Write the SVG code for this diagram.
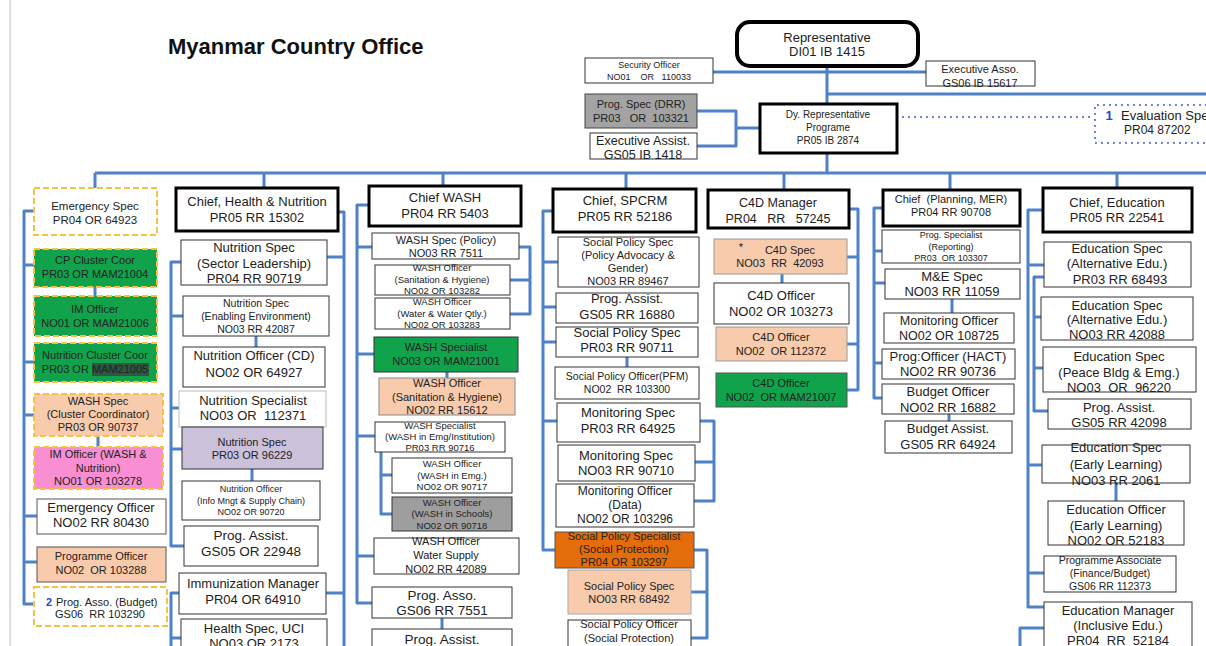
<svg xmlns="http://www.w3.org/2000/svg" width="1206" height="646" viewBox="0 0 1206 646">
<style>
text{font-family:"Liberation Sans",Arial,sans-serif;fill:#222;text-anchor:middle}
.b{fill:#fff;stroke:#333;stroke-width:1}
.bg{stroke:#555;stroke-width:1}
.k{fill:#fff;stroke:#000;stroke-width:3}
.d{stroke:#f5c342;stroke-width:2;stroke-dasharray:6 3}
.w{fill:#fff}
.g{fill:#11a24c}
.p{fill:#f8cbad}
.c{fill:none;stroke:#4f81c7;stroke-width:3;stroke-linejoin:round}
.dot{fill:none;stroke:#3d5ad6;stroke-width:2;stroke-dasharray:0 6;stroke-linecap:round}
.f9{font-size:9px}.f95{font-size:9.5px}.f10{font-size:10px}.f105{font-size:10.5px}.f11{font-size:11px}.f12{font-size:12px}.f13{font-size:13px}
.bl{fill:#2346d8;font-weight:bold}
</style>
<rect width="1206" height="646" fill="#fff"/>
<line x1="10" y1="0" x2="10" y2="646" stroke="#d4d4d4" stroke-width="1.5"/>
<text x="168" y="54" style="text-anchor:start;font-size:22px;font-weight:bold;fill:#111">Myanmar Country Office</text>

<g id="connectors">
<path class="c" d="M713,72 H926 M827,66 V104 M827,94 H1206 M827,153 V173 M697,111 H736 V146 H697 M736,128 H760 M95,173 H1206 M95,173 V188 M264,173 V188 M443,173 V186 M626,173 V189 M784,173 V190 M950,173 V190 M1117,173 V188"/>
<path class="c" d="M34,211 H24 V604 H34 M24,265 H34 M24,362 H34 M24,415 H34 M24,516 H37 M24,562 H37 M95,287 V296 M98,436 V447"/>
<path class="c" d="M338,212 H344 V646 M344,257 H327 M344,593 H326 M181,262 H171 V546 H184 M171,316 H183 M171,408 H179 M171,449 H182 M179,593 H171 V646 M171,638 H181 M256,336 V347 M252,469 V481"/>
<path class="c" d="M369,205 H357 V603 H372 M357,247 H372 M357,354 H374 M357,436 H375 M357,556 H374 M519,247 H530 V314 H510 M530,280 H510 M447,372 V378 M381,452 V514 H392 M381,475 H392 M442,618 V629"/>
<path class="c" d="M553,211 H543 V550 H555 M543,262 H558 M543,307 H556 M543,342 H556 M543,421 H557 M627,357 V367 M700,421 H714 V501 H694 M714,462 H695 M694,550 H707 V638 H691 M707,592 H691"/>
<path class="c" d="M848,209 H858 V390 H847 M858,257 H847 M858,344 H847 M782,274 V283"/>
<path class="c" d="M883,208 H874 V398 H882 M874,251 H882 M874,283 H885 M874,363 H882 M952,299 V313 M949,414 V421"/>
<path class="c" d="M1043,210 H1028 V607 H1044 M1028,265 H1044 M1028,465 H1042 M1028,573 H1044 M1044,277 H1034 V411 H1048 M1034,317 H1041 M1034,368 H1043 M1116,483 V501 M1044,628 H1020 V646"/>
<path class="dot" d="M897,117 H1095 M1206,105 H1095 V143 H1206"/>
</g>

<g id="representative"><rect x="737" y="22" width="181" height="44" rx="13" fill="#fff" stroke="#000" stroke-width="4"/><text class="f13"><tspan x="827" y="42">Representative</tspan><tspan x="827" y="56">DI01 IB 1415</tspan></text></g>
<g id="security-officer"><rect class="b" x="585" y="58" width="128" height="25"/><text class="f9"><tspan x="649" y="68">Security Officer</tspan><tspan x="649" y="80" xml:space="preserve">NO01    OR   110033</tspan></text></g>
<g id="executive-asso"><rect class="b" x="926" y="61" width="109" height="25"/><text class="f11"><tspan x="980" y="73">Executive Asso.</tspan><tspan x="980" y="87">GS06 IB 15617</tspan></text></g>
<g id="prog-spec-drr"><rect x="585" y="94" width="112" height="34" fill="#a3a3a3" stroke="#444" stroke-width="1"/><text class="f11"><tspan x="641" y="108">Prog. Spec (DRR)</tspan><tspan x="641" y="122" xml:space="preserve">PR03   OR  103321</tspan></text></g>
<g id="executive-assist"><rect class="b" x="590" y="133" width="107" height="26"/><text style="font-size:12.5px"><tspan x="643" y="145">Executive Assist.</tspan><tspan x="643" y="159">GS05 IB 1418</tspan></text></g>
<g id="dy-representative"><rect class="k" x="760" y="104" width="137" height="49"/><text class="f10"><tspan x="828" y="118">Dy. Representative</tspan><tspan x="828" y="131">Programe</tspan><tspan x="828" y="144">PR05 IB 2874</tspan></text></g>
<g id="evaluation-spec"><text class="bl" x="1109" y="120" style="font-size:13px">1</text><text style="text-anchor:start;font-size:13px" x="1121" y="120">Evaluation Spec</text><text style="text-anchor:start;font-size:12px" x="1124" y="134">PR04 87202</text></g>

<!-- Column 1: emergency -->
<g id="emergency-spec"><rect class="w d" x="34" y="188" width="123" height="47"/><text style="font-size:11.5px"><tspan x="95" y="210">Emergency Spec</tspan><tspan x="95" y="224">PR04 OR 64923</tspan></text></g>
<g id="cp-cluster-coor"><rect class="g d" x="34" y="249" width="123" height="38"/><text class="f11"><tspan x="95" y="264">CP Cluster Coor</tspan><tspan x="95" y="278">PR03 OR MAM21004</tspan></text></g>
<g id="im-officer"><rect class="g d" x="34" y="296" width="123" height="40"/><text class="f11"><tspan x="95" y="313">IM Officer</tspan><tspan x="95" y="327">NO01 OR MAM21006</tspan></text></g>
<g id="nutrition-cluster-coor"><rect class="g d" x="34" y="343" width="123" height="39"/><rect x="92" y="363" width="57" height="13" fill="#2f5640"/><text class="f11"><tspan x="95" y="359">Nutrition Cluster Coor</tspan><tspan x="95" y="373">PR03 OR MAM21005</tspan></text></g>
<g id="wash-spec-cluster"><rect class="p d" x="34" y="394" width="129" height="42"/><text class="f11"><tspan x="98" y="405">WASH Spec</tspan><tspan x="98" y="418">(Cluster Coordinator)</tspan><tspan x="98" y="431">PR03 OR 90737</tspan></text></g>
<g id="im-officer-wash"><rect class="d" fill="#f98fd2" x="34" y="447" width="129" height="42"/><text class="f11"><tspan x="98" y="458">IM Officer (WASH &amp;</tspan><tspan x="98" y="472">Nutrition)</tspan><tspan x="98" y="485">NO01 OR 103278</tspan></text></g>
<g id="emergency-officer"><rect class="w bg" x="37" y="499" width="129" height="35"/><text class="f13"><tspan x="101" y="512">Emergency Officer</tspan><tspan x="101" y="527">NO02 RR 80430</tspan></text></g>
<g id="programme-officer"><rect class="p bg" x="37" y="547" width="129" height="35"/><text class="f11"><tspan x="101" y="560">Programme Officer</tspan><tspan x="101" y="574" xml:space="preserve">NO02  OR 103288</tspan></text></g>
<g id="prog-asso-budget"><rect class="w d" x="34" y="587" width="133" height="39"/><text class="f11" style="text-anchor:start"><tspan class="bl" x="46" y="606">2</tspan><tspan x="56" y="606">Prog. Asso. (Budget)</tspan></text><text class="f11"><tspan x="100" y="618" xml:space="preserve">GS06  RR 103290</tspan></text></g>

<!-- Column 2: health & nutrition -->
<g id="chief-health"><rect class="k" x="176" y="188" width="162" height="43"/><text class="f13"><tspan x="257" y="206">Chief, Health &amp; Nutrition</tspan><tspan x="257" y="222">PR05 RR 15302</tspan></text></g>
<g id="nutrition-spec-sector"><rect class="b" x="181" y="240" width="146" height="45"/><text class="f13"><tspan x="254" y="252">Nutrition Spec</tspan><tspan x="254" y="268">(Sector Leadership)</tspan><tspan x="254" y="283">PR04 RR 90719</tspan></text></g>
<g id="nutrition-spec-enabling"><rect class="b" x="183" y="296" width="146" height="40"/><text class="f105"><tspan x="256" y="307">Nutrition Spec</tspan><tspan x="256" y="320">(Enabling Environment)</tspan><tspan x="256" y="333">NO03 RR 42087</tspan></text></g>
<g id="nutrition-officer-cd"><rect class="b" x="183" y="347" width="142" height="40"/><text class="f13"><tspan x="254" y="360">Nutrition Officer (CD)</tspan><tspan x="254" y="377">NO02 OR 64927</tspan></text></g>
<g id="nutrition-specialist"><rect x="179" y="391" width="147" height="36" fill="#fff" stroke="#bbb" stroke-width="1"/><text class="f13"><tspan x="253" y="405">Nutrition Specialist</tspan><tspan x="253" y="420" xml:space="preserve">NO03 OR  112371</tspan></text></g>
<g id="nutrition-spec-pr03"><rect x="182" y="427" width="141" height="42" fill="#ccc1db" stroke="#333" stroke-width="1"/><text class="f11"><tspan x="252" y="446">Nutrition Spec</tspan><tspan x="252" y="459">PR03 OR 96229</tspan></text></g>
<g id="nutrition-officer-info"><rect class="b" x="182" y="481" width="138" height="39"/><text class="f9"><tspan x="251" y="492">Nutrition Officer</tspan><tspan x="251" y="504">(Info Mngt &amp; Supply Chain)</tspan><tspan x="251" y="515">NO02 OR 90720</tspan></text></g>
<g id="prog-assist-health"><rect class="b" x="184" y="526" width="134" height="40"/><text style="font-size:13.5px"><tspan x="251" y="540">Prog. Assist.</tspan><tspan x="251" y="556">GS05 OR 22948</tspan></text></g>
<g id="immunization-manager"><rect class="b" x="179" y="573" width="147" height="41"/><text class="f13"><tspan x="253" y="588">Immunization Manager</tspan><tspan x="253" y="604">PR04 OR 64910</tspan></text></g>
<g id="health-spec-uci"><rect class="b" x="181" y="619" width="146" height="40"/><text class="f13"><tspan x="254" y="633">Health Spec, UCI</tspan><tspan x="254" y="648">NO03 OR 2173</tspan></text></g>

<!-- Column 3: WASH -->
<g id="chief-wash"><rect class="k" x="369" y="186" width="152" height="40"/><text class="f13"><tspan x="445" y="202">Chief WASH</tspan><tspan x="445" y="218">PR04 RR 5403</tspan></text></g>
<g id="wash-spec-policy"><rect class="b" x="372" y="233" width="147" height="26"/><text class="f11"><tspan x="446" y="244">WASH Spec (Policy)</tspan><tspan x="446" y="257">NO03 RR 7511</tspan></text></g>
<g id="wash-officer-san"><rect class="b" x="375" y="265" width="135" height="30"/><text class="f95"><tspan x="442" y="271">WASH Officer</tspan><tspan x="442" y="283">(Sanitation &amp; Hygiene)</tspan><tspan x="442" y="294">NO02 OR 103282</tspan></text></g>
<g id="wash-officer-water"><rect class="b" x="375" y="298" width="135" height="31"/><text class="f95"><tspan x="442" y="305">WASH Officer</tspan><tspan x="442" y="317">(Water &amp; Water Qtly.)</tspan><tspan x="442" y="328">NO02 OR 103283</tspan></text></g>
<g id="wash-specialist-green"><rect class="g" x="374" y="337" width="144" height="35" stroke="#333" stroke-width="1"/><text class="f11"><tspan x="446" y="351">WASH Specialist</tspan><tspan x="446" y="365">NO03 OR MAM21001</tspan></text></g>
<g id="wash-officer-peach"><rect class="p" x="379" y="378" width="136" height="37" stroke="#888" stroke-width="1"/><text class="f11"><tspan x="447" y="387">WASH Officer</tspan><tspan x="447" y="401">(Sanitation &amp; Hygiene)</tspan><tspan x="447" y="414">NO02 RR 15612</tspan></text></g>
<g id="wash-specialist-emg"><rect class="b" x="375" y="422" width="130" height="30"/><text class="f95"><tspan x="440" y="429">WASH Specialist</tspan><tspan x="440" y="440">(WASH in Emg/Institution)</tspan><tspan x="440" y="451">PR03 RR 90716</tspan></text></g>
<g id="wash-officer-emg"><rect class="b" x="392" y="458" width="120" height="35"/><text class="f95"><tspan x="452" y="467">WASH Officer</tspan><tspan x="452" y="479">(WASH in Emg.)</tspan><tspan x="452" y="490">NO02 OR 90717</tspan></text></g>
<g id="wash-officer-schools"><rect x="392" y="497" width="120" height="34" fill="#9e9e9e" stroke="#333" stroke-width="1"/><text class="f95"><tspan x="452" y="506">WASH Officer</tspan><tspan x="452" y="517">(WASH in Schools)</tspan><tspan x="452" y="529">NO02 OR 90718</tspan></text></g>
<g id="wash-officer-water-supply"><rect class="b" x="374" y="538" width="145" height="36"/><text class="f11"><tspan x="446" y="545">WASH Officer</tspan><tspan x="446" y="559">Water Supply</tspan><tspan x="446" y="573">NO02 RR 42089</tspan></text></g>
<g id="prog-asso-wash"><rect class="b" x="372" y="587" width="140" height="31"/><text style="font-size:13.5px"><tspan x="442" y="600">Prog. Asso.</tspan><tspan x="442" y="615">GS06 RR 7551</tspan></text></g>
<g id="prog-assist-wash"><rect class="b" x="372" y="629" width="140" height="30"/><text style="font-size:13.5px"><tspan x="442" y="644">Prog. Assist.</tspan></text></g>

<!-- Column 4: SPCRM -->
<g id="chief-spcrm"><rect class="k" x="553" y="189" width="143" height="43"/><text class="f13"><tspan x="625" y="205">Chief, SPCRM</tspan><tspan x="625" y="221">PR05 RR 52186</tspan></text></g>
<g id="social-policy-advocacy"><rect class="b" x="558" y="237" width="141" height="50"/><text class="f11"><tspan x="628" y="246">Social Policy Spec</tspan><tspan x="628" y="259">(Policy Advocacy &amp;</tspan><tspan x="628" y="272">Gender)</tspan><tspan x="628" y="285">NO03 RR 89467</tspan></text></g>
<g id="prog-assist-spcrm"><rect class="b" x="556" y="293" width="142" height="30"/><text class="f13"><tspan x="627" y="303">Prog. Assist.</tspan><tspan x="627" y="319">GS05 RR 16880</tspan></text></g>
<g id="social-policy-spec-pr03"><rect class="b" x="556" y="327" width="142" height="30"/><text class="f13"><tspan x="627" y="337">Social Policy Spec</tspan><tspan x="627" y="352">PR03 RR 90711</tspan></text></g>
<g id="social-policy-officer-pfm"><rect class="b" x="555" y="367" width="144" height="32"/><text class="f105"><tspan x="627" y="380">Social Policy Officer(PFM)</tspan><tspan x="627" y="393" xml:space="preserve">NO02  RR 103300</tspan></text></g>
<g id="monitoring-spec-pr03"><rect class="b" x="557" y="403" width="143" height="39"/><text class="f13"><tspan x="628" y="417">Monitoring Spec</tspan><tspan x="628" y="433">PR03 RR 64925</tspan></text></g>
<g id="monitoring-spec-no03"><rect class="b" x="558" y="445" width="137" height="36"/><text class="f13"><tspan x="626" y="460">Monitoring Spec</tspan><tspan x="626" y="475">NO03 RR 90710</tspan></text></g>
<g id="monitoring-officer-data"><rect class="b" x="556" y="484" width="138" height="43"/><text class="f12"><tspan x="625" y="495">Monitoring Officer</tspan><tspan x="625" y="509">(Data)</tspan><tspan x="625" y="523">NO02 OR 103296</tspan></text></g>
<g id="social-policy-specialist-sp"><rect x="555" y="532" width="139" height="36" fill="#e46c0a" stroke="#555" stroke-width="1"/><text class="f11"><tspan x="624" y="540">Social Policy Specialist</tspan><tspan x="624" y="553">(Social Protection)</tspan><tspan x="624" y="566">PR04 OR 103297</tspan></text></g>
<g id="social-policy-spec-no03"><rect class="p" x="568" y="570" width="123" height="44" stroke="#aaa" stroke-width="1"/><text class="f11"><tspan x="629" y="590">Social Policy Spec</tspan><tspan x="629" y="603">NO03 RR 68492</tspan></text></g>
<g id="social-policy-officer-sp"><rect class="b" x="568" y="620" width="123" height="40"/><text class="f11"><tspan x="629" y="628">Social Policy Officer</tspan><tspan x="629" y="642">(Social Protection)</tspan></text></g>

<!-- Column 5: C4D -->
<g id="c4d-manager"><rect class="k" x="708" y="190" width="141" height="38"/><text style="font-size:12.5px"><tspan x="778" y="207">C4D Manager</tspan><tspan x="778" y="223" xml:space="preserve">PR04   RR   57245</tspan></text></g>
<g id="c4d-spec"><rect class="p" x="714" y="239" width="133" height="35" stroke="#999" stroke-width="1"/><text class="f11"><tspan x="741" y="251">*</tspan><tspan x="790" y="254">C4D Spec</tspan><tspan x="780" y="267" xml:space="preserve">NO03  RR  42093</tspan></text></g>
<g id="c4d-officer"><rect class="b" x="714" y="283" width="135" height="41"/><text class="f13"><tspan x="781" y="300">C4D Officer</tspan><tspan x="781" y="316">NO02 OR 103273</tspan></text></g>
<g id="c4d-officer-peach"><rect class="p" x="716" y="327" width="131" height="34" stroke="#999" stroke-width="1"/><text class="f11"><tspan x="781" y="341">C4D Officer</tspan><tspan x="781" y="355" xml:space="preserve">NO02  OR 112372</tspan></text></g>
<g id="c4d-officer-green"><rect class="g" x="716" y="373" width="131" height="34" stroke="#555" stroke-width="1"/><text class="f11"><tspan x="781" y="387">C4D Officer</tspan><tspan x="781" y="401" xml:space="preserve">NO02  OR MAM21007</tspan></text></g>

<!-- Column 6: Planning -->
<g id="chief-planning"><rect class="k" x="883" y="190" width="137" height="36"/><text class="f11"><tspan x="951" y="203" xml:space="preserve">Chief  (Planning, MER)</tspan><tspan x="951" y="216">PR04 RR 90708</tspan></text></g>
<g id="prog-specialist-reporting"><rect class="b" x="882" y="230" width="138" height="33"/><text class="f9"><tspan x="951" y="238">Prog. Specialist</tspan><tspan x="951" y="250">(Reporting)</tspan><tspan x="951" y="261" xml:space="preserve">PR03  OR 103307</tspan></text></g>
<g id="me-spec"><rect class="b" x="885" y="269" width="135" height="30"/><text class="f13"><tspan x="952" y="281">M&amp;E Spec</tspan><tspan x="952" y="296">NO03 RR 11059</tspan></text></g>
<g id="monitoring-officer-planning"><rect class="b" x="884" y="313" width="130" height="30"/><text style="font-size:12.5px"><tspan x="949" y="325">Monitoring Officer</tspan><tspan x="949" y="340">NO02 OR 108725</tspan></text></g>
<g id="prog-officer-hact"><rect class="b" x="882" y="349" width="133" height="30"/><text class="f13"><tspan x="948" y="361">Prog:Officer (HACT)</tspan><tspan x="948" y="376">NO02 RR 90736</tspan></text></g>
<g id="budget-officer"><rect class="b" x="882" y="384" width="132" height="30"/><text class="f13"><tspan x="948" y="396">Budget Officer</tspan><tspan x="948" y="412">NO02 RR 16882</tspan></text></g>
<g id="budget-assist"><rect class="b" x="885" y="421" width="127" height="32"/><text class="f13"><tspan x="948" y="433">Budget Assist.</tspan><tspan x="948" y="449">GS05 RR 64924</tspan></text></g>

<!-- Column 7: Education -->
<g id="chief-education"><rect class="k" x="1043" y="188" width="149" height="44"/><text class="f13"><tspan x="1117" y="207">Chief, Education</tspan><tspan x="1117" y="222">PR05 RR 22541</tspan></text></g>
<g id="edu-spec-alt-pr03"><rect class="b" x="1044" y="242" width="147" height="45"/><text class="f13"><tspan x="1117" y="253">Education Spec</tspan><tspan x="1117" y="268">(Alternative Edu.)</tspan><tspan x="1120" y="284">PR03 RR 68493</tspan></text></g>
<g id="edu-spec-alt-no03"><rect class="b" x="1041" y="297" width="152" height="43"/><text class="f13"><tspan x="1117" y="310">Education Spec</tspan><tspan x="1117" y="324">(Alternative Edu.)</tspan><tspan x="1117" y="339">NO03 RR 42088</tspan></text></g>
<g id="edu-spec-peace"><rect class="b" x="1043" y="347" width="153" height="45"/><text class="f13"><tspan x="1119" y="361">Education Spec</tspan><tspan x="1119" y="377">(Peace Bldg &amp; Emg.)</tspan><tspan x="1119" y="392" xml:space="preserve">NO03  OR  96220</tspan></text></g>
<g id="prog-assist-edu"><rect class="b" x="1048" y="399" width="143" height="30"/><text class="f13"><tspan x="1119" y="412">Prog. Assist.</tspan><tspan x="1119" y="427">GS05 RR 42098</tspan></text></g>
<g id="edu-spec-early"><rect class="b" x="1042" y="445" width="148" height="38"/><text class="f13"><tspan x="1116" y="452">Education Spec</tspan><tspan x="1116" y="469">(Early Learning)</tspan><tspan x="1116" y="485">NO03 RR 2061</tspan></text></g>
<g id="edu-officer-early"><rect class="b" x="1048" y="501" width="136" height="44"/><text class="f13"><tspan x="1116" y="514">Education Officer</tspan><tspan x="1116" y="530">(Early Learning)</tspan><tspan x="1116" y="545">NO02 OR 52183</tspan></text></g>
<g id="programme-associate"><rect class="b" x="1044" y="556" width="132" height="36"/><text class="f105"><tspan x="1110" y="564">Programme Associate</tspan><tspan x="1110" y="577">(Finance/Budget)</tspan><tspan x="1110" y="590">GS06 RR 112373</tspan></text></g>
<g id="education-manager"><rect class="b" x="1044" y="602" width="148" height="58"/><text class="f13"><tspan x="1118" y="615">Education Manager</tspan><tspan x="1118" y="630">(Inclusive Edu.)</tspan><tspan x="1118" y="645" xml:space="preserve">PR04  RR  52184</tspan></text></g>
</svg>
